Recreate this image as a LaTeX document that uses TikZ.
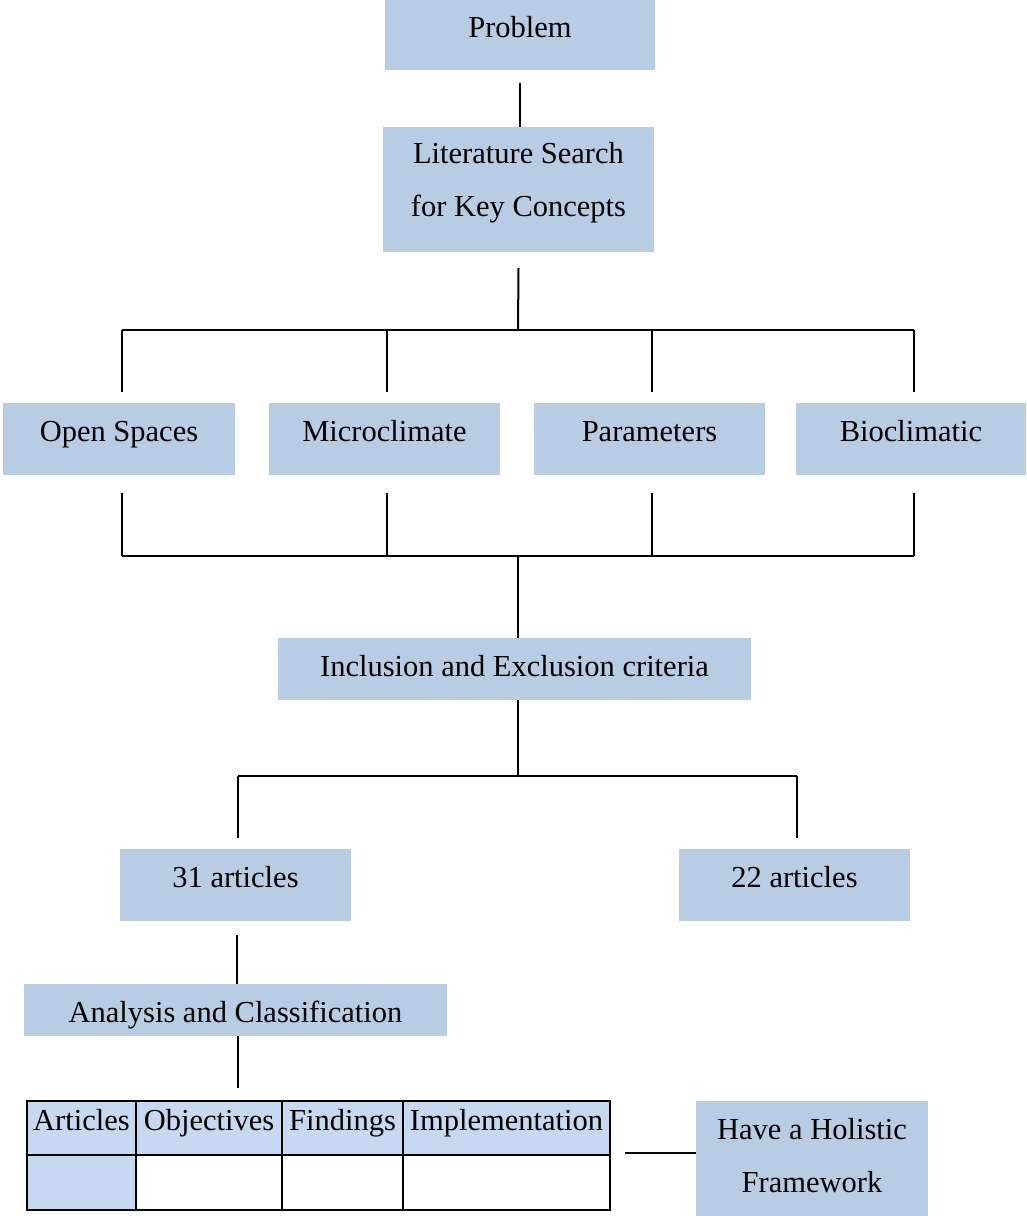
\documentclass[tikz,border=0pt]{standalone}
\usepackage{fontspec}
\setmainfont{Liberation Serif}
\usetikzlibrary{calc}
\definecolor{boxblue}{HTML}{B8CCE4}
\definecolor{tabblue}{HTML}{C6D9F1}
\begin{document}
\begin{tikzpicture}[x=1pt,y=-1pt,
  box/.style={fill=boxblue, draw=none, inner sep=0pt, outer sep=0pt},
  txt/.style={anchor=base, inner sep=0pt, font=\fontsize{30.5}{53}\selectfont, align=center},
  conn/.style={line width=2pt},
  cell/.style={draw, line width=2pt, inner sep=0pt, outer sep=0pt}]
\useasboundingbox (0,0) rectangle (1026,1216);
% boxes
\node[box, minimum width=270pt, minimum height=70pt] (prob) at (520,35) {};
\node[txt] (probt) at (520,37) {Problem};
\node[box, minimum width=271pt, minimum height=125pt] (lit) at (518.5,189.5) {};
\node[txt] (litt) at (518.5,216) {Literature Search\\for Key Concepts};
\node[box, minimum width=232pt, minimum height=72pt] (os) at (119,439) {};
\node[txt] (ost) at (119,441) {Open Spaces};
\node[box, minimum width=231pt, minimum height=72pt] (mc) at (384.5,439) {};
\node[txt] (mct) at (384.5,441) {Microclimate};
\node[box, minimum width=231pt, minimum height=72pt] (pa) at (649.5,439) {};
\node[txt] (pat) at (649.5,441) {Parameters};
\node[box, minimum width=230pt, minimum height=72pt] (bio) at (911,439) {};
\node[txt] (biot) at (911,441) {Bioclimatic};
\node[box, minimum width=473pt, minimum height=62pt] (inc) at (514.5,669) {};
\node[txt] (inct) at (514.5,676) {Inclusion and Exclusion criteria};
\node[box, minimum width=231pt, minimum height=72pt] (a31) at (235.5,885) {};
\node[txt] (a31t) at (235.5,887) {31 articles};
\node[box, minimum width=231pt, minimum height=72pt] (a22) at (794.5,885) {};
\node[txt] (a22t) at (794.5,887) {22 articles};
\node[box, minimum width=423pt, minimum height=52pt] (ana) at (235.5,1010) {};
\node[txt] (anat) at (235.5,1022) {Analysis and Classification};
\node[box, minimum width=232pt, minimum height=115pt] (hol) at (812,1158.5) {};
\node[txt] (holt) at (812,1192) {Have a Holistic\\Framework};
% table
\node[cell, fill=tabblue, minimum width=109pt, minimum height=54pt] (t11) at (81.5,1128) {};
\node[cell, fill=tabblue, minimum width=146pt, minimum height=54pt] (t12) at (209,1128) {};
\node[cell, fill=tabblue, minimum width=121pt, minimum height=54pt] (t13) at (342.5,1128) {};
\node[cell, fill=tabblue, minimum width=207pt, minimum height=54pt] (t14) at (506.5,1128) {};
\node[cell, fill=tabblue, minimum width=109pt, minimum height=55pt] (t21) at (81.5,1182.5) {};
\node[cell, fill=white, minimum width=146pt, minimum height=55pt] (t22) at (209,1182.5) {};
\node[cell, fill=white, minimum width=121pt, minimum height=55pt] (t23) at (342.5,1182.5) {};
\node[cell, fill=white, minimum width=207pt, minimum height=55pt] (t24) at (506.5,1182.5) {};
\node[txt] (t11t) at (81.5,1130) {Articles};
\node[txt] (t12t) at (209,1130) {Objectives};
\node[txt] (t13t) at (342.5,1130) {Findings};
\node[txt] (t14t) at (506.5,1130) {Implementation};
% connectors
\draw[conn] ($(prob.south)+(0,13)$) -- (prob.south |- lit.north);
\coordinate (bus1) at (518,330);
\draw[conn] ($(lit.south)+(0,16)$) -- (bus1);
\foreach \n in {os,mc,pa,bio}{
  \coordinate (\n-top) at ($(\n.north)+(2.5,0)$);
  \coordinate (\n-bot) at ($(\n.south)+(2.5,0)$);
}
\draw[conn] (os-top |- bus1) -- (bio-top |- bus1);
\foreach \n in {os,mc,pa,bio}
  \draw[conn] (\n-top |- bus1) -- ($(\n-top)+(0,-11)$);
\coordinate (bus2) at (518,556);
\foreach \n in {os,mc,pa,bio}
  \draw[conn] ($(\n-bot)+(0,18)$) -- (\n-bot |- bus2);
\draw[conn] (os-bot |- bus2) -- (bio-bot |- bus2);
\draw[conn] (bus2) -- (bus2 |- inc.north);
\coordinate (bus3) at (518,776);
\coordinate (a31-top) at ($(a31.north)+(2.5,0)$);
\coordinate (a22-top) at ($(a22.north)+(2.5,0)$);
\draw[conn] (bus3 |- inc.south) -- (bus3);
\draw[conn] (a31-top |- bus3) -- (a22-top |- bus3);
\draw[conn] (a31-top |- bus3) -- ($(a31-top)+(0,-11)$);
\draw[conn] (a22-top |- bus3) -- ($(a22-top)+(0,-11)$);
\draw[conn] ($(a31.south)+(1.5,14)$) -- ($(ana.north)+(1.5,0)$);
\draw[conn] ($(ana.south)+(2.5,0)$) -- ($(ana.south |- t12.north)+(2.5,-13)$);
\draw[conn] ($(t14.south east)+(15,-2)$) -- ($(t14.south east -| hol.west)+(0,-2)$);
\end{tikzpicture}
\end{document}
